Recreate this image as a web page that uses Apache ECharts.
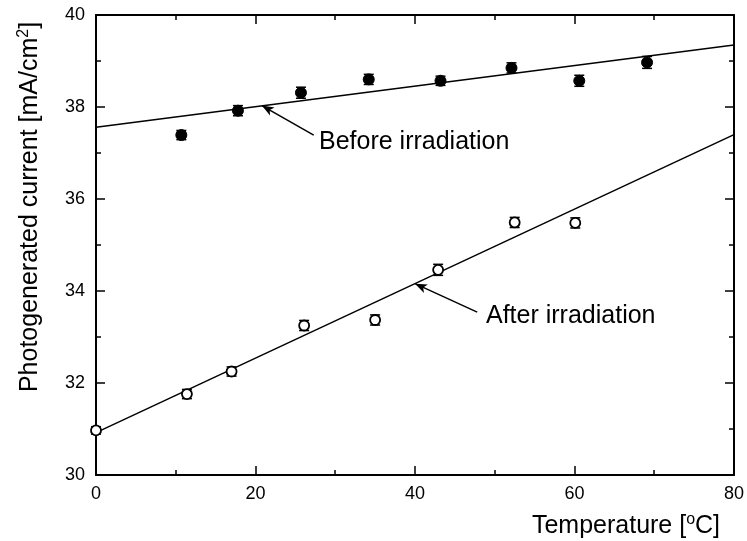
<!DOCTYPE html>
<html><head><meta charset="utf-8">
<script src="https://cdn.jsdelivr.net/npm/echarts@6/dist/echarts.min.js"></script>
<style>html,body{margin:0;padding:0;background:#fff}#c{width:747px;height:541px}</style>
</head><body><div id="c"></div>
<script>
// ---- data ----
const beforeT   = [10.7, 17.8, 25.7, 34.2, 43.2, 52.1, 60.6, 69.1];
const beforeI   = [37.39, 37.92, 38.31, 38.60, 38.57, 38.85, 38.57, 38.97];
const beforeErr = [0.10, 0.11, 0.12, 0.11, 0.10, 0.11, 0.12, 0.13];
const afterT    = [0, 11.4, 17.0, 26.1, 35.0, 42.9, 52.5, 60.1];
const afterI    = [30.97, 31.76, 32.25, 33.25, 33.37, 34.46, 35.49, 35.48];
const afterErr  = [0.08, 0.10, 0.10, 0.11, 0.11, 0.12, 0.11, 0.11];
const beforeFitT = [0, 80];
const beforeFitI = [37.56, 39.35];
const afterFitT  = [0, 80];
const afterFitI  = [30.92, 37.40];
// annotation arrows: [head, tail] in data coords
const beforeArrow = [[20.8, 38.03], [27.3, 37.39]];
const afterArrow  = [[40.0, 34.16], [47.8, 33.54]];
const xTicks = [0, 20, 40, 60, 80];
const yTicks = [30, 32, 34, 36, 38, 40];

const FONT = 'Liberation Sans, Arial, Helvetica, sans-serif';
const zip = (a, b) => a.map((v, i) => [v, b[i]]);

const chart = echarts.init(document.getElementById('c'), null, {renderer: 'canvas'});

function errItem(params, api) {
  const x = api.value(0), y = api.value(1), e = api.value(2);
  const top = api.coord([x, y + e]);
  const bot = api.coord([x, y - e]);
  const w = 5;
  const st = {stroke: '#000', lineWidth: 1.5};
  return {type: 'group', children: [
    {type: 'line', shape: {x1: top[0], y1: top[1], x2: bot[0], y2: bot[1]}, style: st},
    {type: 'line', shape: {x1: top[0]-w, y1: top[1], x2: top[0]+w, y2: top[1]}, style: st},
    {type: 'line', shape: {x1: bot[0]-w, y1: bot[1], x2: bot[0]+w, y2: bot[1]}, style: st}
  ]};
}

const axisCommon = {
  type: 'value',
  axisLine: {show: true, onZero: false, lineStyle: {color: '#000', width: 2}},
  axisTick: {show: true, inside: true, length: 9, lineStyle: {color: '#000', width: 1.5}},
  minorTick: {show: true, splitNumber: 2, length: 5, lineStyle: {color: '#000', width: 1.5}},
  splitLine: {show: false},
  minorSplitLine: {show: false}
};

const option = {
  backgroundColor: '#fff',
  animation: false,
  grid: {left: 96, right: 10, top: 15, bottom: 66, containLabel: false},
  xAxis: [
    Object.assign({}, axisCommon, {min: 0, max: 80, interval: 20, position: 'bottom',
      axisLabel: {show: true, color: '#000', fontSize: 18, fontFamily: FONT, margin: 10,
        formatter: v => xTicks.includes(v) ? String(v) : ''}}),
    Object.assign({}, axisCommon, {min: 0, max: 80, interval: 20, position: 'top',
      axisLabel: {show: false}})
  ],
  yAxis: [
    Object.assign({}, axisCommon, {min: 30, max: 40, interval: 2, position: 'left',
      axisLabel: {show: true, color: '#000', fontSize: 18, fontFamily: FONT, margin: 11,
        formatter: v => yTicks.includes(v) ? String(v) : ''}}),
    Object.assign({}, axisCommon, {min: 30, max: 40, interval: 2, position: 'right',
      axisLabel: {show: false}})
  ],
  series: [
    {type: 'line', data: zip(beforeFitT, beforeFitI), symbol: 'none',
      lineStyle: {color: '#000', width: 1.5}, z: 2,
      markLine: {silent: true, symbol: ['arrow', 'none'], symbolSize: [7, 12],
        lineStyle: {color: '#000', width: 1.5, type: 'solid'}, label: {show: false},
        data: [[{coord: beforeArrow[0]}, {coord: beforeArrow[1]}]]}},
    {type: 'line', data: zip(afterFitT, afterFitI), symbol: 'none',
      lineStyle: {color: '#000', width: 1.5}, z: 2,
      markLine: {silent: true, symbol: ['arrow', 'none'], symbolSize: [7, 12],
        lineStyle: {color: '#000', width: 1.5, type: 'solid'}, label: {show: false},
        data: [[{coord: afterArrow[0]}, {coord: afterArrow[1]}]]}},
    {type: 'custom', renderItem: errItem, data: beforeT.map((t, i) => [t, beforeI[i], beforeErr[i]]), z: 3},
    {type: 'custom', renderItem: errItem, data: afterT.map((t, i) => [t, afterI[i], afterErr[i]]), z: 3},
    {type: 'scatter', data: zip(beforeT, beforeI), symbol: 'circle', symbolSize: 11,
      itemStyle: {color: '#000', borderColor: '#000', borderWidth: 1, opacity: 1}, z: 4},
    {type: 'scatter', data: zip(afterT, afterI), symbol: 'circle', symbolSize: 10,
      itemStyle: {color: '#fff', borderColor: '#000', borderWidth: 1.8, opacity: 1}, z: 4}
  ],
  graphic: [
    {type: 'text', left: 319, top: 130, style: {text: 'Before irradiation', fontSize: 25, fontFamily: FONT, fill: '#000'}},
    {type: 'text', left: 486, top: 304, style: {text: 'After irradiation', fontSize: 25, fontFamily: FONT, fill: '#000'}},
    {type: 'text', x: 626, y: 526,
      style: {text: '{a|Temperature [}{s|o}{a|C]}', align: 'center', verticalAlign: 'middle',
        rich: {a: {fontSize: 25, fontFamily: FONT, color: '#000'},
               s: {fontSize: 16, fontFamily: FONT, color: '#000', verticalAlign: 'top', lineHeight: 28}}}},
    {type: 'text', x: 30, y: 207, rotation: Math.PI / 2,
      style: {text: '{a|Photogenerated current [mA/cm}{s|2}{a|]}', align: 'center', verticalAlign: 'middle',
        rich: {a: {fontSize: 25, fontFamily: FONT, color: '#000'},
               s: {fontSize: 16, fontFamily: FONT, color: '#000', verticalAlign: 'top', lineHeight: 28}}}}
  ]
};
chart.setOption(option);
</script>
</body></html>
